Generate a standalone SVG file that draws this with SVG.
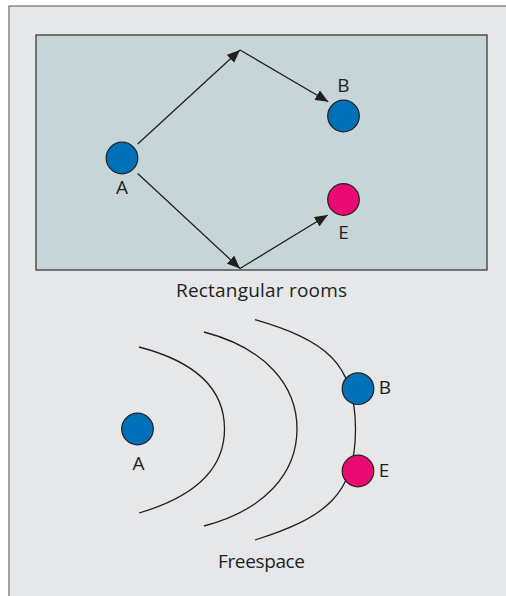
<svg xmlns="http://www.w3.org/2000/svg" width="506" height="596" viewBox="0 0 506 596">
  <style>
    .lbl { font-family: "Open Sans", "Liberation Sans", sans-serif; font-size: 19px; fill: #231f20; text-anchor: middle; }
    .node { stroke: #231f20; stroke-width: 1.2; }
    .blue { fill: #0070b9; }
    .red { fill: #ea0a70; }
    .ray { stroke: #231f20; stroke-width: 1.3; fill: none; marker-end: url(#arrow); }
    .wave { stroke: #231f20; stroke-width: 1.3; fill: none; }
  </style>
  <defs>
    <marker id="arrow" markerUnits="userSpaceOnUse" markerWidth="13" markerHeight="11" refX="13" refY="5.5" orient="auto">
      <path d="M0,0 L13,5.5 L0,11 Z" fill="#231f20"/>
    </marker>
  </defs>

  <rect width="506" height="596" fill="#ffffff"/>
  <!-- outer panel -->
  <rect x="9" y="6" width="510" height="600" fill="#e6e7e8" stroke="#6d6e70" stroke-width="1.2"/>

  <!-- room -->
  <rect id="room" x="36" y="35" width="451" height="235" fill="#c6d6d8" stroke="#3a3a3c" stroke-width="1.3"/>

  <g id="connectors">
    <line class="ray" x1="137.7" y1="144" x2="240" y2="50"/>
    <line class="ray" x1="240" y1="50" x2="328.3" y2="101.7"/>
    <line class="ray" x1="137.7" y1="173.5" x2="240" y2="268.5"/>
    <line class="ray" x1="240" y1="268.5" x2="327.7" y2="215"/>
  </g>

  <g id="room-A">
    <circle class="node blue" cx="122" cy="158" r="15.8"/>
    <text class="lbl" x="122" y="194">A</text>
  </g>
  <g id="room-B">
    <circle class="node blue" cx="343.5" cy="116" r="15.8"/>
    <text class="lbl" x="343.5" y="92">B</text>
  </g>
  <g id="room-E">
    <circle class="node red" cx="343.5" cy="199.5" r="15.8"/>
    <text class="lbl" x="343.5" y="239">E</text>
  </g>
  <text class="lbl" x="261.5" y="297" textLength="171">Rectangular rooms</text>

  <!-- wavefronts spreading from A -->
  <g id="wavefronts">
    <path class="wave" d="M139,347 C197,362 224.5,390 224.5,429 C224.5,468 197,496 139,513"/>
    <path class="wave" d="M204,332 C265,348 297,385 297,429 C297,473 265,510 204,526"/>
    <path class="wave" d="M255,319.7 C325,340 355.5,363 355.5,429 C355.5,495 325,518 255,540"/>
  </g>

  <g id="free-A">
    <circle class="node blue" cx="137.5" cy="429" r="15.8"/>
    <text class="lbl" x="138.5" y="470">A</text>
  </g>
  <g id="free-B">
    <circle class="node blue" cx="358" cy="388.7" r="15.8"/>
    <text class="lbl" x="385" y="394">B</text>
  </g>
  <g id="free-E">
    <circle class="node red" cx="358" cy="471" r="15.8"/>
    <text class="lbl" x="384" y="477">E</text>
  </g>
  <text class="lbl" x="261.5" y="568" textLength="87">Freespace</text>
</svg>
